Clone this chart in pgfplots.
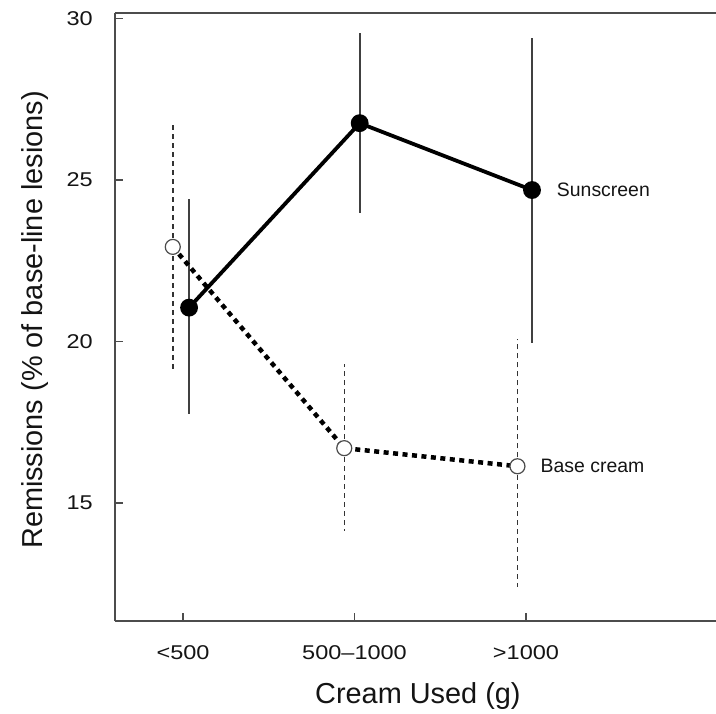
\documentclass[border=0pt]{standalone}
\usepackage{fontspec}
\setmainfont{Liberation Sans}
\newfontfamily\tickfont{Liberation Sans}[FakeStretch=1.18]
\usepackage{pgfplots}
\pgfplotsset{compat=1.18}
\definecolor{axgray}{gray}{0.3}
\begin{document}
\begin{tikzpicture}
\begin{axis}[
  name=main,
  scale only axis,
  width=601bp, height=608bp,
  xmin=-0.397, xmax=3.108,
  ymin=11.35, ymax=30.17,
  axis x line=box, axis y line=left,
  axis line style={-, line width=1.5bp, color=axgray},
  every inner x axis line/.append style={-},
  every outer x axis line/.append style={-},
  every inner y axis line/.append style={-},
  every outer y axis line/.append style={-},
  xtick={0,1,2}, xticklabels={<500, 500–1000, >1000},
  ytick={15,20,25,30},
  xtick pos=left, ytick pos=left,
  tick align=inside,
  major tick length=8bp,
  tick style={line width=1.2bp, color=axgray},
  /pgf/number format/assume math mode=true,
  every tick label/.append style={inner sep=0pt, font=\tickfont\fontsize{20}{24}\selectfont, text=black!92},
  xticklabel style={anchor=north, yshift=-24bp},
  yticklabel style={anchor=east, xshift=-22bp},
  xlabel={Cream Used (g)},
  ylabel={Remissions (\% of base-line lesions)},
  every axis x label/.style={at={(axis description cs:0.504,-0.135)}, anchor=base, font=\fontsize{29}{34}\selectfont, text=black!92},
  every axis y label/.style={at={(axis description cs:-0.12,0.495)}, anchor=base, rotate=90, font=\fontsize{29}{34}\selectfont, text=black!92},
  clip=false,
]
% Base cream error bars (dashed)
\addplot[draw=none, mark=none,
  error bars/.cd, y dir=both, y explicit,
  error bar style={black!80, line width=1.5bp, dash pattern=on 5bp off 4bp},
  error mark=none]
  coordinates {
    (-0.06,22.93) += (0,3.80) -= (0,3.80)
    (0.94,16.70) += (0,2.60) -= (0,2.55)
    (1.95,16.14) += (0,3.95) -= (0,3.75)
  };
% Sunscreen error bars (solid)
\addplot[draw=none, mark=none,
  error bars/.cd, y dir=both, y explicit,
  error bar style={black!75, line width=1.7bp},
  error mark=none]
  coordinates {
    (0.035,21.05) += (0,3.35) -= (0,3.30)
    (1.03,26.76) += (0,2.80) -= (0,2.78)
    (2.035,24.69) += (0,4.70) -= (0,4.72)
  };
% Base cream line
\addplot[black, line width=4.5bp, dash pattern=on 5bp off 4.5bp,
  mark=*, mark size=7.5bp,
  mark options={solid, fill=white, draw=black!70, line width=1.2bp}]
  coordinates {(-0.06,22.93) (0.94,16.70) (1.95,16.14)};
% Sunscreen line
\addplot[black, line width=3.8bp, mark=*, mark size=7bp,
  mark options={solid, fill=black, draw=black}]
  coordinates {(0.035,21.05) (1.03,26.76) (2.035,24.69)};
\node[anchor=west, font=\fontsize{19.5}{22}\selectfont, text=black!92] at (axis cs:2.16,24.69) {Sunscreen};
\node[anchor=west, font=\fontsize{19.5}{22}\selectfont, text=black!92] at (axis cs:2.065,16.14) {Base cream};
\end{axis}
\pgfresetboundingbox
\path (main.south west) ++(-115bp,-93bp) coordinate (bbl);
\path (main.north east) ++(0bp,13bp) coordinate (bbr);
\path (bbl) rectangle (bbr);
\end{tikzpicture}
\end{document}
